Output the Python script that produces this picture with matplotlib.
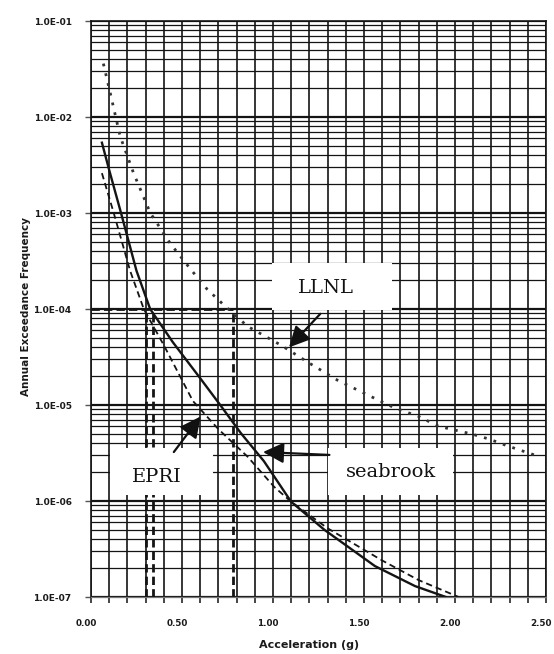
import matplotlib
matplotlib.use("Agg")
import matplotlib.pyplot as plt
import matplotlib.transforms as mtransforms
from matplotlib.ticker import MultipleLocator, LogLocator, NullFormatter, FixedLocator
from matplotlib.patches import Rectangle

# ---- data ----
seabrook_x = [0.06, 0.10, 0.165, 0.25, 0.325, 0.45, 0.60, 0.71, 0.823, 0.95, 1.10, 1.283, 1.56, 1.78, 1.95]
seabrook_y = [5.4e-3, 2.8e-3, 1.0e-3, 2.5e-4, 1.0e-4, 4.5e-5, 1.9e-5, 1.0e-5, 5.1e-6, 2.6e-6, 9.8e-7, 5.0e-7, 2.1e-7, 1.3e-7, 1.0e-7]

epri_x = [0.06, 0.125, 0.215, 0.29, 0.40, 0.56, 0.70, 0.86, 1.007, 1.10, 1.30, 1.60, 1.80, 2.02]
epri_y = [2.6e-3, 1.0e-3, 2.5e-4, 1.0e-4, 4.2e-5, 1.1e-5, 5.6e-6, 2.9e-6, 1.4e-6, 9.8e-7, 5.2e-7, 2.4e-7, 1.5e-7, 1.0e-7]

llnl_x = [0.068, 0.105, 0.16, 0.234, 0.326, 0.436, 0.547, 0.639, 0.73, 0.86, 1.044, 1.19, 1.357,
          1.56, 1.67, 1.80, 1.91, 2.09, 2.19, 2.28, 2.44]
llnl_y = [3.6e-2, 1.8e-2, 6.3e-3, 2.6e-3, 1.0e-3, 4.8e-4, 2.6e-4, 1.6e-4, 1.1e-4, 6.6e-5, 4.2e-5,
          2.8e-5, 1.8e-5, 1.17e-5, 9.3e-6, 7.6e-6, 6.0e-6, 5.0e-6, 4.4e-6, 3.8e-6, 3.0e-6]

ref_x = [0.30, 0.34, 0.78]     # vertical dashed reference lines
ref_y = 1.0e-4                 # horizontal dashed reference level

x_ticks = [0.0, 0.5, 1.0, 1.5, 2.0, 2.5]
x_tick_labels = ["0.00", "0.50", "1.00", "1.50", "2.00", "2.50"]
y_ticks = [1e-1, 1e-2, 1e-3, 1e-4, 1e-5, 1e-6, 1e-7]
y_tick_labels = ["1.0E-01", "1.0E-02", "1.0E-03", "1.0E-04", "1.0E-05", "1.0E-06", "1.0E-07"]

# annotation anchors (data coords): (tip, tail)
llnl_arrow = ((1.088, 10**-4.40), (1.26, 10**-4.05))
epri_arrow = ((0.602, 10**-5.12), (0.455, 10**-5.49))
seab_arrow = ((0.945, 10**-5.49), (1.31, 10**-5.52))

# ---- figure ----
W, H = 554, 654
fig = plt.figure(figsize=(W / 100, H / 100), dpi=100)
L, R, T, B = 91, 546, 21, 597
ax = fig.add_axes([L / W, 1 - B / H, (R - L) / W, (B - T) / H])

ax.set_yscale("log")
ax.set_xlim(0, 2.5)
ax.set_ylim(1e-7, 1e-1)

ink = "#141414"
ax.xaxis.set_major_locator(FixedLocator(x_ticks))
ax.xaxis.set_minor_locator(MultipleLocator(0.1))
ax.set_xticklabels(x_tick_labels)
ax.yaxis.set_major_locator(FixedLocator(y_ticks))
ax.yaxis.set_minor_locator(LogLocator(base=10, subs=range(2, 10), numticks=50))
ax.yaxis.set_minor_formatter(NullFormatter())
ax.set_yticklabels(y_tick_labels)

ax.grid(which="major", axis="y", color=ink, lw=1.6)
ax.grid(which="minor", axis="y", color=ink, lw=0.9)
ax.grid(which="both", axis="x", color=ink, lw=1.2)
ax.set_axisbelow(True)

ax.tick_params(axis="x", which="both", length=4, width=1.1, color=ink, direction="out", pad=12,
               labelsize=6.3)
ax.tick_params(axis="y", which="major", length=4, width=1.0, color="#555555", direction="out", pad=10,
               labelsize=6.5)
ax.tick_params(axis="y", which="minor", length=0)
shift = mtransforms.ScaledTranslation(-5 / 100, 0, fig.dpi_scale_trans)
for lab in ax.get_xticklabels():
    lab.set_transform(lab.get_transform() + shift)
for lab in ax.get_xticklabels() + ax.get_yticklabels():
    lab.set_fontweight("bold")
    lab.set_color("#1a1a1a")

for s in ax.spines.values():
    s.set_color(ink)
    s.set_linewidth(1.2)
ax.spines["bottom"].set_color("#777777")
ax.spines["bottom"].set_linewidth(0.9)

# reference dashed lines
for rx in ref_x:
    ax.plot([rx, rx], [1e-7, ref_y], color=ink, lw=2.0, ls=(0, (3, 1.5)), zorder=3)
ax.plot([0, max(ref_x)], [ref_y, ref_y], color=ink, lw=2.0, ls=(0, (3, 1.5)), zorder=3)

# curves
ax.plot(seabrook_x, seabrook_y, color=ink, lw=1.7, zorder=4)
ax.plot(epri_x, epri_y, color=ink, lw=1.3, ls=(0, (3.5, 2.2)), zorder=4)
ax.plot(llnl_x, llnl_y, color="#333333", lw=2.0, ls=(0, (1, 2.6)), zorder=4)

# white label boxes (axes fraction)
boxes = {
    "LLNL": ((272 - L) / (R - L), (B - 310) / (B - T), (392 - 272) / (R - L), (310 - 263) / (B - T)),
    "EPRI": ((110 - L) / (R - L), (B - 495) / (B - T), (213 - 110) / (R - L), (495 - 448) / (B - T)),
    "seabrook": ((328 - L) / (R - L), (B - 495) / (B - T), (453 - 328) / (R - L), (495 - 448) / (B - T)),
}
for name, (bx, by, bw, bh) in boxes.items():
    ax.add_patch(Rectangle((bx, by), bw, bh, transform=ax.transAxes, facecolor="white",
                           edgecolor="none", zorder=5))

tfont = dict(family="DejaVu Serif", fontsize=14, color="#111111", zorder=6, ha="center", va="center")
ax.text((326 - L) / (R - L), (B - 288) / (B - T), "LLNL", transform=ax.transAxes, **tfont)
ax.text((157 - L) / (R - L), (B - 477) / (B - T), "EPRI", transform=ax.transAxes, **tfont)
ax.text((391 - L) / (R - L), (B - 472) / (B - T), "seabrook", transform=ax.transAxes, **tfont)

aprops = dict(arrowstyle="-|>,head_length=0.9,head_width=0.45", color="#111111", lw=1.6,
              shrinkA=0, shrinkB=0, mutation_scale=14)
for tip, tail in (llnl_arrow, epri_arrow, seab_arrow):
    ax.annotate("", xy=tip, xytext=tail, arrowprops=aprops, zorder=7)

ax.set_xlabel("Acceleration (g)", fontsize=8, fontweight="bold", color="#1a1a1a")
ax.set_ylabel("Annual Exceedance Frequency", fontsize=7.5, fontweight="bold", color="#1a1a1a")
ax.xaxis.set_label_coords((309 - L) / (R - L), (B - 640) / (B - T))
ax.yaxis.set_label_coords((31 - L) / (R - L), (B - 307) / (B - T))

fig.savefig("out.png", dpi=100, facecolor="white")
